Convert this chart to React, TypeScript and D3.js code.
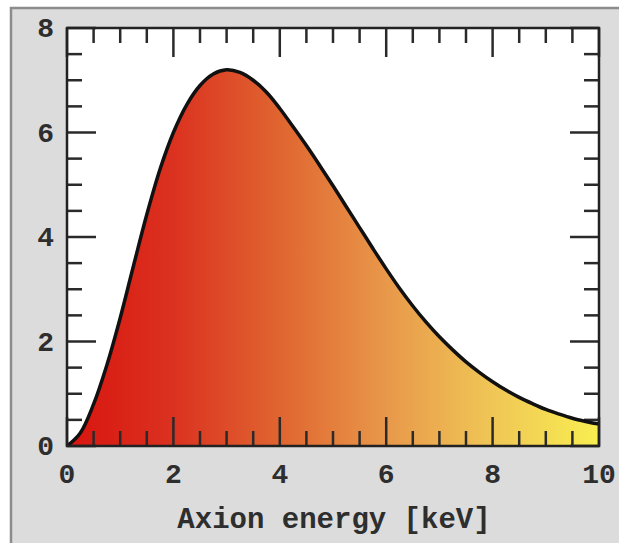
import React from 'react';
import * as d3 from 'd3';

// spectrum, x in keV
const energy = [0, 0.25, 0.5, 0.75, 1, 1.25, 1.5, 1.75, 2, 2.25, 2.5, 2.75, 3, 3.25, 3.5, 3.75, 4, 4.25, 4.5, 4.75, 5,
  5.25, 5.5, 5.75, 6, 6.25, 6.5, 6.75, 7, 7.25, 7.5, 7.75, 8, 8.25, 8.5, 8.75, 9, 9.25, 9.5, 9.75, 10];
const flux = [0, 0.25, 0.8, 1.55, 2.45, 3.45, 4.43, 5.3, 6.0, 6.53, 6.9, 7.12, 7.2, 7.15, 7.0, 6.77, 6.46, 6.11, 5.75,
  5.37, 4.98, 4.58, 4.18, 3.78, 3.39, 3.02, 2.68, 2.37, 2.09, 1.84, 1.61, 1.41, 1.23, 1.07, 0.93, 0.81, 0.7, 0.61, 0.53, 0.47, 0.42];

const xMajor = [0, 2, 4, 6, 8, 10];
const yMajor = [0, 2, 4, 6, 8];
const xLabels = ['0', '2', '4', '6', '8', '10'];
const yLabels = ['0', '2', '4', '6', '8'];
const xTitle = 'Axion energy [keV]';

const gradStops = [
  { off: 0, col: '#d8140f' },
  { off: 0.2, col: '#db3220' },
  { off: 0.4, col: '#e06530' },
  { off: 0.6, col: '#e8984a' },
  { off: 0.8, col: '#f0c656' },
  { off: 1, col: '#f8ee50' },
];

const W = 619, H = 543;
const left = 67, right = 599, top = 28, bottom = 446;
const font = "'Courier New', 'Liberation Mono', monospace";

export default function App() {
  const x = d3.scaleLinear().domain([0, 10]).range([left, right]);
  const y = d3.scaleLinear().domain([0, 8]).range([bottom, top]);

  const pts: [number, number][] = energy.map((e, i) => [e, flux[i]]);
  const area = d3.area<[number, number]>()
    .x(d => x(d[0])).y0(y(0)).y1(d => y(d[1]))
    .curve(d3.curveCatmullRom.alpha(0.5));
  const line = d3.line<[number, number]>()
    .x(d => x(d[0])).y(d => y(d[1]))
    .curve(d3.curveCatmullRom.alpha(0.5));

  const xMinor = d3.range(0.5, 10, 0.5).filter(v => v % 2 !== 0);
  const yMinor = d3.range(0.5, 8, 0.5).filter(v => v % 2 !== 0);
  const big = 29, small = 15;
  const tickCol = '#2a2a2a';

  return (
    <svg width={W} height={H} style={{ position: 'absolute', left: 0, top: 0 }}>
      <defs>
        <linearGradient id="spec" x1={x(0)} x2={x(10)} y1={0} y2={0} gradientUnits="userSpaceOnUse">
          {gradStops.map((s, i) => <stop key={i} offset={s.off} stopColor={s.col} />)}
        </linearGradient>
      </defs>
      <rect x={0} y={0} width={W} height={H} fill="#fff" />
      <rect x={11} y={8} width={W + 20} height={H + 20} fill="#dcdcdc" stroke="#8c8c8c" strokeWidth={2.5} />
      <rect x={left} y={top} width={right - left} height={bottom - top} fill="#fff" />
      <path d={area(pts) || ''} fill="url(#spec)" />

      {/* ticks, inward on all four sides */}
      <g stroke={tickCol} strokeWidth={2.5}>
        {xMajor.concat(xMinor).map((v, i) => {
          const len = v % 2 === 0 ? big : small;
          return (
            <g key={'xt' + i}>
              <line x1={x(v)} x2={x(v)} y1={bottom} y2={bottom - len} />
              <line x1={x(v)} x2={x(v)} y1={top} y2={top + len} />
            </g>
          );
        })}
        {yMajor.concat(yMinor).map((v, i) => {
          const len = v % 2 === 0 ? big : small;
          return (
            <g key={'yt' + i}>
              <line x1={left} x2={left + len} y1={y(v)} y2={y(v)} />
              <line x1={right} x2={right - len} y1={y(v)} y2={y(v)} />
            </g>
          );
        })}
      </g>

      <path d={line(pts) || ''} fill="none" stroke="#111" strokeWidth={3.5} strokeLinejoin="round" />
      <rect x={left} y={top} width={right - left} height={bottom - top} fill="none" stroke="#222" strokeWidth={2.5} />

      <g fontFamily={font} fontWeight="bold" fontSize={28} fill="#2e2e2e">
        {xMajor.map((v, i) => (
          <text key={'xl' + i} x={x(v)} y={483} textAnchor="middle">{xLabels[i]}</text>
        ))}
        {yMajor.map((v, i) => (
          <text key={'yl' + i} x={54} y={y(v) + 9} textAnchor="end">{yLabels[i]}</text>
        ))}
        <text x={(left + right) / 2 + 1} y={528} textAnchor="middle" fontSize={29}>{xTitle}</text>
      </g>
    </svg>
  );
}
